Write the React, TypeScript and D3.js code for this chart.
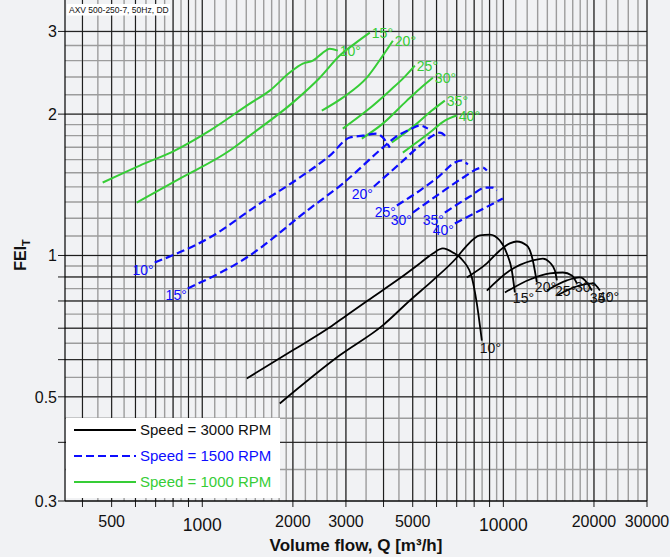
import React from 'react';
import * as d3 from 'd3';

// ---------- DATA ----------
const angleLabels = ['10°', '15°', '20°', '25°', '30°', '35°', '40°'];

// Speed = 3000 RPM  (volume flow m³/h, FEI_T)
const flow3000: number[][] = [
  [1405, 1998, 2652, 3020, 3546, 4530, 5280, 5833, 6295, 6795, 7335, 7859, 8166, 8483],
  [1809, 2862, 3978, 4892, 5833, 7006, 7562, 8355, 9018, 9736, 10270, 10670, 10920],
  [7562, 8814, 9736, 10510, 11090, 11970, 12530, 12920],
  [8814, 10510, 12530, 13530, 14270, 14830, 15060],
  [10120, 12250, 14270, 15770, 16890, 17550],
  [13950, 16260, 17960, 18940, 19680],
  [15060, 17960, 19830, 20920],
];
const fei3000: number[][] = [
  [0.547, 0.628, 0.703, 0.746, 0.802, 0.894, 0.962, 1.01, 1.035, 1.015, 0.976, 0.898, 0.79, 0.659],
  [0.484, 0.613, 0.71, 0.802, 0.885, 0.99, 1.05, 1.103, 1.108, 1.076, 1.01, 0.929, 0.834],
  [0.898, 0.962, 1.025, 1.061, 1.071, 1.05, 0.976, 0.876],
  [0.842, 0.929, 0.976, 0.985, 0.966, 0.929, 0.885],
  [0.834, 0.889, 0.916, 0.92, 0.907, 0.872],
  [0.842, 0.885, 0.898, 0.876, 0.842],
  [0.822, 0.864, 0.872, 0.842],
];

// Speed = 1500 RPM
const flow1500: number[][] = [
  [695, 1059, 1552, 2109, 2652, 3090, 3414, 3800, 3978, 4197],
  [895, 1405, 2276, 2929, 3978, 4361, 4892, 5280, 5613],
  [3714, 4530, 5280, 5833, 6152, 6491],
  [4429, 5280, 6152, 6900, 7280, 7621],
  [5005, 6152, 7449, 8229, 8549, 8814],
  [6392, 7739, 8748, 9229, 9515],
  [6900, 8355, 9961],
];
const fei1500: number[][] = [
  [0.966, 1.092, 1.29, 1.466, 1.632, 1.783, 1.8, 1.818, 1.783, 1.697],
  [0.851, 0.99, 1.259, 1.423, 1.697, 1.783, 1.854, 1.891, 1.863],
  [1.402, 1.569, 1.714, 1.8, 1.827, 1.783],
  [1.278, 1.375, 1.48, 1.577, 1.593, 1.562],
  [1.234, 1.355, 1.473, 1.531, 1.539, 1.517],
  [1.234, 1.335, 1.395, 1.395, 1.375],
  [1.17, 1.247, 1.322],
];

// Speed = 1000 RPM
const flow1000: number[][] = [
  [467, 620, 810, 1059, 1438, 1676, 1953, 2158, 2329, 2495, 2652, 2819],
  [606, 842, 1234, 1438, 1998, 2457, 2862, 3211, 3602],
  [2495, 2929, 3520, 3978, 4295],
  [2929, 3520, 4197, 4708, 5082],
  [3388, 3978, 4780, 5280, 5833],
  [4262, 5160, 5788, 6392],
  [4636, 5699, 6392, 7006],
];
const fei1000: number[][] = [
  [1.43, 1.554, 1.673, 1.845, 2.106, 2.244, 2.452, 2.562, 2.599, 2.691, 2.757, 2.731],
  [1.296, 1.458, 1.673, 1.8, 2.116, 2.391, 2.665, 2.826, 2.982],
  [2.035, 2.169, 2.391, 2.665, 2.867],
  [1.863, 2.035, 2.244, 2.404, 2.537],
  [1.774, 1.909, 2.137, 2.266, 2.391],
  [1.74, 1.909, 2.035, 2.137],
  [1.656, 1.827, 1.937, 1.986],
];

const xTickValues = [500, 1000, 2000, 3000, 5000, 10000, 20000, 30000];
const yTickValues = [0.3, 0.5, 1, 2, 3];
const legendLabels = ['Speed = 3000 RPM', 'Speed = 1500 RPM', 'Speed = 1000 RPM'];
const titleText = 'AXV 500-250-7, 50Hz, DD';

// ---------- STYLE ----------
const W = 670;
const H = 557;
const FONT = '"Liberation Sans", Arial, Helvetica, sans-serif';
const BG = '#f1f2f4';
const BLACK = '#000000';
const BLUE = '#0d0dff';
const GREEN = '#36cd36';
const blackLabelDy = [12, 11, 10, 16, 9, 12, 11];

const x = d3.scaleLog().domain([350, 30000]).range([65, 647]);
const y = d3.scaleLog().domain([0.3, 3.5]).range([501, 0]);

const X0 = 65, X1 = 647, Y0 = 501, Y1 = 0;

// grid values
const blackGridQ = [
  ...d3.range(400, 1000, 100),
  ...d3.range(1000, 10000, 1000),
  10000, 20000, 30000,
];
const grayGridQ = [
  ...d3.range(400, 1000, 50),
  ...d3.range(1000, 2000, 100),
  ...d3.range(2000, 3000, 200),
  ...d3.range(3000, 10000, 500),
  ...d3.range(10000, 20000, 1000),
  ...d3.range(20000, 30001, 2000),
];
const blackGridF = [0.4, 0.5, 0.6, 0.7, 0.8, 0.9, 1, 2, 3];
const grayGridF = [
  ...d3.range(0.35, 0.999, 0.05),
  ...d3.range(1, 1.999, 0.1),
  ...d3.range(2, 3.001, 0.2),
];

const lineGen = d3
  .line<[number, number]>()
  .x((d) => x(d[0]))
  .y((d) => y(d[1]))
  .curve(d3.curveMonotoneX);

function pts(q: number[], f: number[]): [number, number][] {
  return q.map((v, i) => [v, f[i]] as [number, number]);
}

export default function App() {
  const curves3000 = flow3000.map((q, i) => pts(q, fei3000[i]));
  const curves1500 = flow1500.map((q, i) => pts(q, fei1500[i]));
  const curves1000 = flow1000.map((q, i) => pts(q, fei1000[i]));

  return (
    <svg
      width={W}
      height={H}
      style={{ position: 'absolute', left: 0, top: 0, display: 'block' }}
      fontFamily={FONT}
    >
      <rect x={0} y={0} width={W} height={H} fill={BG} />

      {/* gray grid */}
      <g stroke="#9c9c9c" strokeWidth={1.4}>
        {grayGridQ.map((q) => (
          <line key={'gq' + q} x1={x(q)} x2={x(q)} y1={Y1} y2={Y0} />
        ))}
        {grayGridF.map((f) => (
          <line key={'gf' + f} x1={X0} x2={X1} y1={y(f)} y2={y(f)} />
        ))}
      </g>
      {/* black grid */}
      <g stroke="#1a1a1a" strokeWidth={1}>
        {blackGridQ.map((q) => (
          <line key={'bq' + q} x1={x(q)} x2={x(q)} y1={Y1} y2={Y0 + 6} />
        ))}
        {blackGridF.map((f) => (
          <line key={'bf' + f} x1={X0 - 7} x2={X1} y1={y(f)} y2={y(f)} />
        ))}
        <line x1={X0 - 7} x2={X1} y1={y(0.3)} y2={y(0.3)} />
      </g>
      {/* axes */}
      <line x1={X0} x2={X0} y1={0} y2={Y0} stroke="#000" strokeWidth={1.2} />
      <line x1={X0} x2={X1} y1={Y0} y2={Y0} stroke="#000" strokeWidth={1.2} />

      {/* tick labels */}
      <g fontSize={16} fill="#111">
        {yTickValues.map((f) => (
          <text key={'yt' + f} x={57} y={y(f) + 6} textAnchor="end">
            {String(f)}
          </text>
        ))}
        {xTickValues.map((q) => {
          const big = q === 1000 || q === 10000;
          return (
            <text
              key={'xt' + q}
              x={x(q)}
              y={big ? 531 : 527}
              textAnchor="middle"
              fontSize={big ? 17.5 : 16}
            >
              {String(q)}
            </text>
          );
        })}
      </g>

      {/* curves */}
      <g fill="none" strokeLinejoin="round">
        {curves1000.map((c, i) => (
          <path key={'g' + i} d={lineGen(c) || ''} stroke={GREEN} strokeWidth={2} />
        ))}
        {curves1500.map((c, i) => (
          <path
            key={'b' + i}
            d={lineGen(c) || ''}
            stroke={BLUE}
            strokeWidth={2.2}
            strokeDasharray="8,4"
          />
        ))}
        {curves3000.map((c, i) => (
          <path key={'k' + i} d={lineGen(c) || ''} stroke={BLACK} strokeWidth={1.8} />
        ))}
      </g>

      {/* curve labels */}
      <g fontSize={14}>
        {curves1000.map((c, i) => {
          const e = c[c.length - 1];
          return (
            <text key={'gl' + i} x={x(e[0]) + 2} y={y(e[1]) + 5} fill={GREEN}>
              {angleLabels[i]}
            </text>
          );
        })}
        {curves1500.map((c, i) => {
          const s = c[0];
          return (
            <text key={'bl' + i} x={x(s[0]) - 1} y={y(s[1]) + 12} fill={BLUE} textAnchor="end">
              {angleLabels[i]}
            </text>
          );
        })}
        {curves3000.map((c, i) => {
          const e = c[c.length - 1];
          return (
            <text key={'kl' + i} x={x(e[0]) - 2} y={y(e[1]) + blackLabelDy[i]} fill="#111">
              {angleLabels[i]}
            </text>
          );
        })}
      </g>

      {/* title box */}
      <rect x={67} y={4} width={103} height={11.5} fill="#fff" />
      <text x={69} y={13} fontSize={8.5} fill="#111">
        {titleText}
      </text>

      {/* legend */}
      <rect x={66} y={418} width={214} height={80} fill="#fff" />
      <line x1={74} x2={136} y1={430} y2={430} stroke={BLACK} strokeWidth={2} />
      <line x1={74} x2={136} y1={456} y2={456} stroke={BLUE} strokeWidth={2.2} strokeDasharray="8,4" />
      <line x1={74} x2={136} y1={482} y2={482} stroke={GREEN} strokeWidth={2} />
      <text x={140} y={435} fontSize={15} fill="#111">
        {legendLabels[0]}
      </text>
      <text x={140} y={461} fontSize={15} fill={BLUE}>
        {legendLabels[1]}
      </text>
      <text x={140} y={487} fontSize={15} fill={GREEN}>
        {legendLabels[2]}
      </text>

      {/* axis titles */}
      <text x={356} y={551} textAnchor="middle" fontSize={17} fontWeight="bold" fill="#111">
        Volume flow, Q [m³/h]
      </text>
      <text
        transform={`translate(26, ${255}) rotate(-90)`}
        textAnchor="middle"
        fontSize={16}
        fontWeight="bold"
        fill="#111"
      >
        FEI
        <tspan fontSize={11} dy={4}>
          T
        </tspan>
      </text>
    </svg>
  );
}
